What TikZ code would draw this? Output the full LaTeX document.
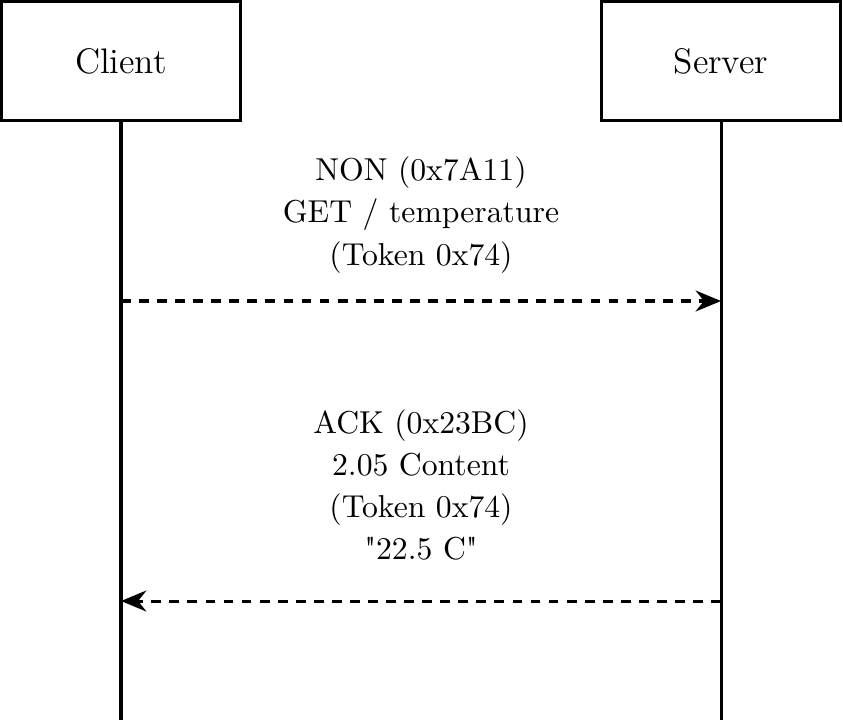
\documentclass[tikz,border=0pt]{standalone}
\usetikzlibrary{arrows.meta}

\begin{document}
\begin{tikzpicture}[x=0.0111cm,y=-0.0111cm,
        actor/.style={draw,line width=0.95pt,minimum width=2.66cm,minimum height=1.33cm,
            font=\fontsize{11.2}{13.5}\selectfont},
        lifeline/.style={line width=0.95pt},
        msg/.style={line width=0.95pt,dash pattern=on 3.1pt off 2.6pt,
            -{Stealth[length=8pt,width=6.6pt]}},
        msglabel/.style={align=center,inner sep=0pt,font=\fontsize{10}{13.3}\selectfont}]
        \useasboundingbox (0,0) rectangle (843,726);

        % Participantes
        \node[actor] (client) at (121,61) {Client};
        \node[actor] (server) at (721,61) {Server};

        % Líneas de vida
        \coordinate (clientend) at (121,720);
        \coordinate (serverend) at (721,720);
        \draw[lifeline] (client.south) -- (clientend);
        \draw[lifeline] (server.south) -- (serverend);

        % Petición
        \coordinate (reqfrom) at (121,301);
        \coordinate (reqto) at (721,301);
        \draw[msg] (reqfrom) -- (reqto);
        \node[msglabel] (reqtext) at (421,215)
            {NON (0x7A11)\\GET / temperature\\(Token 0x74)};

        % Respuesta
        \coordinate (respfrom) at (721,601);
        \coordinate (respto) at (121,601);
        \draw[msg] (respfrom) -- (respto);
        \node[msglabel] (resptext) at (421,485)
            {ACK (0x23BC)\\2.05 Content\\(Token 0x74)\\\textquotedbl 22.5 C\textquotedbl};
    \end{tikzpicture}
\end{document}
